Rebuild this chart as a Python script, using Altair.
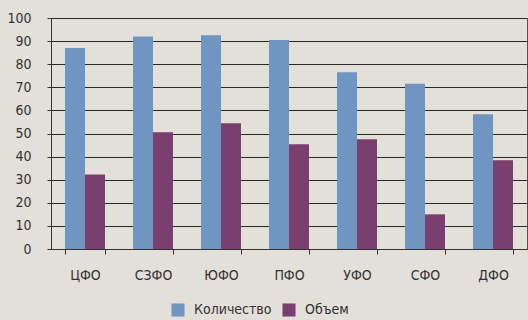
import altair as alt
import pandas as pd

categories = ["ЦФО", "СЗФО", "ЮФО", "ПФО", "УФО", "СФО", "ДФО"]
kolichestvo = [87, 92, 92.5, 90.5, 76.5, 71.5, 58.3]
obem = [32.3, 50.5, 54.4, 45.3, 47.5, 15, 38.4]
series = ["Количество", "Объем"]
colors = ["#6f95c1", "#7a3f6e"]
y_ticks = [0, 10, 20, 30, 40, 50, 60, 70, 80, 90, 100]

rows = []
for c, a, b in zip(categories, kolichestvo, obem):
    rows.append({"cat": c, "series": series[0], "value": a})
    rows.append({"cat": c, "series": series[1], "value": b})
df = pd.DataFrame(rows)

FONT = "DejaVu Sans Condensed, Roboto Condensed, Roboto, sans-serif"

chart = alt.Chart(df).mark_bar().encode(
    x=alt.X("cat:N", sort=categories, title=None,
            scale=alt.Scale(paddingInner=0.412, paddingOuter=0.206),
            axis=alt.Axis(labelAngle=0, tickBand="extent", tickSize=5,
                          labelPadding=14, domainColor="#333", tickColor="#333",
                          labelFontSize=14, labelColor="#333", labelFont=FONT)),
    xOffset=alt.XOffset("series:N", sort=series),
    y=alt.Y("value:Q", title=None,
            scale=alt.Scale(domain=[0, 100], nice=False),
            axis=alt.Axis(values=y_ticks, tickSize=4, labelPadding=16,
                          domainColor="#333", tickColor="#333",
                          gridColor="#2a2a2a", gridWidth=1,
                          labelFontSize=14, labelColor="#333", labelFont=FONT)),
    color=alt.Color("series:N", sort=series,
                    scale=alt.Scale(domain=series, range=colors),
                    legend=alt.Legend(title=None, orient="none", direction="horizontal",
                                      legendX=120, legendY=285,
                                      symbolType="square", symbolSize=170,
                                      symbolStrokeWidth=0, symbolOpacity=1,
                                      labelFontSize=14, labelColor="#333",
                                      labelFont=FONT, columnPadding=10,
                                      labelOffset=9)),
).properties(
    width=476, height=231,
    background="#e3dfd9",
    padding={"left": 51, "top": 18, "right": 1, "bottom": 71},
    autosize=alt.AutoSizeParams(type="none"),
).configure_view(
    stroke="#555", strokeWidth=1
).configure_axis(
    grid=True
).configure_axisX(grid=False)

chart.save("out.html", embed_options={"renderer": "svg", "actions": False})
